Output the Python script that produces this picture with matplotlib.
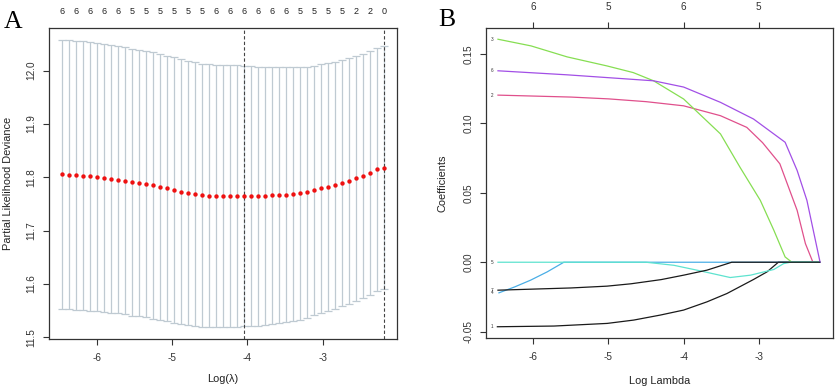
import matplotlib
matplotlib.use("Agg")
import matplotlib.pyplot as plt

plt.rcParams['font.family'] = ['Liberation Sans', 'DejaVu Sans']
plt.rcParams['axes.unicode_minus'] = False

# ---------------- Panel A data (cross-validation curve) ----------------
log_lambda = [-6.460, -6.367, -6.274, -6.182, -6.089, -5.996, -5.903, -5.810,
              -5.717, -5.625, -5.532, -5.439, -5.346, -5.253, -5.160, -5.068,
              -4.975, -4.882, -4.789, -4.696, -4.603, -4.511, -4.418, -4.325,
              -4.232, -4.139, -4.046, -3.954, -3.861, -3.768, -3.675, -3.582,
              -3.490, -3.397, -3.304, -3.211, -3.118, -3.025, -2.933, -2.840,
              -2.747, -2.654, -2.561, -2.468, -2.376, -2.283, -2.190]
cv_mean = [11.8056, 11.8049, 11.8037, 11.8031, 11.8018, 11.8006, 11.7993, 11.7974,
           11.7956, 11.7937, 11.7912, 11.7893, 11.7874, 11.7849, 11.7824, 11.7793,
           11.7762, 11.7731, 11.7706, 11.7681, 11.7662, 11.7656, 11.7649, 11.7649,
           11.7649, 11.7649, 11.7649, 11.7649, 11.7649, 11.7656, 11.7662, 11.7668,
           11.7674, 11.7687, 11.7699, 11.7724, 11.7756, 11.7793, 11.7824, 11.7856,
           11.7893, 11.7937, 11.7981, 11.8024, 11.8074, 11.8149, 11.8181]
cv_se = [0.2520, 0.2520, 0.2518, 0.2516, 0.2514, 0.2512, 0.2510, 0.2508,
         0.2506, 0.2504, 0.2502, 0.2500, 0.2498, 0.2495, 0.2492, 0.2489,
         0.2486, 0.2482, 0.2478, 0.2474, 0.2470, 0.2466, 0.2462, 0.2458,
         0.2454, 0.2450, 0.2444, 0.2436, 0.2428, 0.2420, 0.2410, 0.2400,
         0.2388, 0.2376, 0.2364, 0.2352, 0.2340, 0.2332, 0.2324, 0.2316,
         0.2308, 0.2302, 0.2296, 0.2290, 0.2286, 0.2282, 0.2280]
top_labels_A = ['6', '6', '6', '6', '6', '5', '5', '5', '5', '5', '5', '6',
                '6', '6', '6', '6', '6', '5', '5', '5', '5', '2', '2', '0']
lambda_min = -4.046
lambda_1se = -2.190

# ---------------- Panel B data (coefficient paths) ----------------
v1_x = [-6.478, -5.726, -5.017, -4.664, -4.310, -4.000, -3.690, -3.424, -3.070, -2.890, -2.740, -2.190]
v1_y = [-0.0464, -0.0459, -0.0440, -0.0416, -0.0380, -0.0344, -0.0285, -0.0225, -0.0124, -0.0069, 0.0, 0.0]
v2_x = [-6.470, -5.500, -5.000, -4.500, -4.000, -3.510, -3.160, -2.950, -2.720, -2.490, -2.380, -2.280, -2.190]
v2_y = [0.1202, 0.1188, 0.1175, 0.1155, 0.1125, 0.1054, 0.0970, 0.0860, 0.0708, 0.0373, 0.0134, 0.0, 0.0]
v3_x = [-6.470, -6.030, -5.550, -5.020, -4.670, -4.400, -4.000, -3.510, -3.250, -2.980, -2.800, -2.650, -2.560, -2.190]
v3_y = [0.1604, 0.1556, 0.1477, 0.1412, 0.1364, 0.1305, 0.1174, 0.0923, 0.0683, 0.0445, 0.0230, 0.0038, 0.0, 0.0]
v4_x = [-6.457, -6.250, -6.036, -5.814, -5.594, -2.190]
v4_y = [-0.0220, -0.0178, -0.0129, -0.0069, 0.0, 0.0]
v5_x = [-6.470, -4.500, -4.130, -3.780, -3.380, -3.110, -2.800, -2.670, -2.580, -2.190]
v5_y = [0.0, 0.0, -0.0022, -0.0062, -0.0110, -0.0093, -0.0052, -0.0010, 0.0, 0.0]
v6_x = [-6.470, -5.550, -4.400, -4.000, -3.510, -3.070, -2.650, -2.490, -2.360, -2.185]
v6_y = [0.1377, 0.1348, 0.1305, 0.1260, 0.1150, 0.1030, 0.0863, 0.0660, 0.0445, 0.0]
v7_x = [-6.470, -5.500, -5.020, -4.700, -4.300, -4.000, -3.690, -3.360, -2.190]
v7_y = [-0.0201, -0.0185, -0.0172, -0.0155, -0.0125, -0.0093, -0.0057, 0.0, 0.0]

paths = [('1', v1_x, v1_y, '#1a1a1a'),
         ('2', v2_x, v2_y, '#E0508C'),
         ('3', v3_x, v3_y, '#86DE52'),
         ('4', v4_x, v4_y, '#4AAEE6'),
         ('5', v5_x, v5_y, '#5EE3CF'),
         ('6', v6_x, v6_y, '#A24FE6'),
         ('7', v7_x, v7_y, '#1a1a1a')]
top_ticks_B = [-6, -5, -4, -3]
top_labels_B = ['6', '5', '6', '5']

axc = '#333333'
fs = 7.2
fl = 7.9

fig = plt.figure(figsize=(8.35, 3.9), dpi=100)

# ---------------- Panel A ----------------
ax1 = fig.add_axes([0.0587, 0.1308, 0.4167, 0.7974])
ax1.errorbar(log_lambda, cv_mean, yerr=cv_se, fmt='none', ecolor='#BFCAD2',
             elinewidth=0.9, capsize=2.6, capthick=0.9)
ax1.scatter(log_lambda, cv_mean, s=10, color='#EE1111', zorder=3, linewidths=0)
for v in (lambda_min, lambda_1se):
    ax1.axvline(v, color='#444444', lw=0.8, ls=(0, (3, 2)))
ax1.set_xlim(-6.633, -2.013)
ax1.set_ylim(11.497, 12.08)
ax1.set_xticks([-6, -5, -4, -3])
ax1.set_xticklabels(['-6', '-5', '-4', '-3'])
ax1.set_yticks([11.5, 11.6, 11.7, 11.8, 11.9, 12.0])
ax1.set_yticklabels(['11.5', '11.6', '11.7', '11.8', '11.9', '12.0'],
                    rotation=90, va='center')
ax1.set_xlabel('Log(λ)', fontsize=fl, color='#222222')
ax1.set_ylabel('Partial Likelihood Deviance', fontsize=fl, color='#222222')
ax1.xaxis.set_label_coords(0.5, -0.113)
ax1.yaxis.set_label_coords(-0.104, 0.5)
top1 = ax1.secondary_xaxis('top')
top1.set_xticks(log_lambda[::2])
top1.set_xticklabels(top_labels_A)
top1.tick_params(length=0, pad=8.5, labelsize=6.5, colors='#222222')
top1.spines['top'].set_visible(False)

# ---------------- Panel B ----------------
ax2 = fig.add_axes([0.5817, 0.1326, 0.4159, 0.7964])
for lab, xs, ys, col in paths:
    ax2.plot(xs, ys, color=col, lw=0.9)
    ax2.text(-6.55, ys[0], lab, fontsize=3.3, ha='center', va='center', color='#333333')
ax2.set_xlim(-6.633, -2.013)
ax2.set_ylim(-0.0547, 0.1687)
ax2.set_xticks([-6, -5, -4, -3])
ax2.set_xticklabels(['-6', '-5', '-4', '-3'])
ax2.set_yticks([-0.05, 0.0, 0.05, 0.10, 0.15])
ax2.set_yticklabels(['-0.05', '0.00', '0.05', '0.10', '0.15'], rotation=90, va='center')
ax2.set_xlabel('Log Lambda', fontsize=fl, color='#222222')
ax2.set_ylabel('Coefficients', fontsize=fl, color='#222222')
ax2.xaxis.set_label_coords(0.5, -0.121)
ax2.yaxis.set_label_coords(-0.11, 0.5)
top2 = ax2.secondary_xaxis('top')
top2.set_xticks(top_ticks_B)
top2.set_xticklabels(top_labels_B)
top2.tick_params(length=4, width=0.8, pad=7.5, labelsize=fs, colors=axc)
top2.spines['top'].set_visible(False)

for ax in (ax1, ax2):
    for s in ax.spines.values():
        s.set_color(axc)
        s.set_linewidth(0.9)
    ax.tick_params(length=4, width=0.8, labelsize=fs, colors=axc, pad=6)
    ax.tick_params(axis='y', pad=5)

fig.text(13.5 / 835, 1 - 21.5 / 390, 'A', fontsize=18.5, family='Liberation Serif',
         ha='center', va='center')
fig.text(446.5 / 835, 1 - 20.5 / 390, 'B', fontsize=18.5, family='Liberation Serif',
         ha='center', va='center')

fig.savefig('out.png', dpi=100)
